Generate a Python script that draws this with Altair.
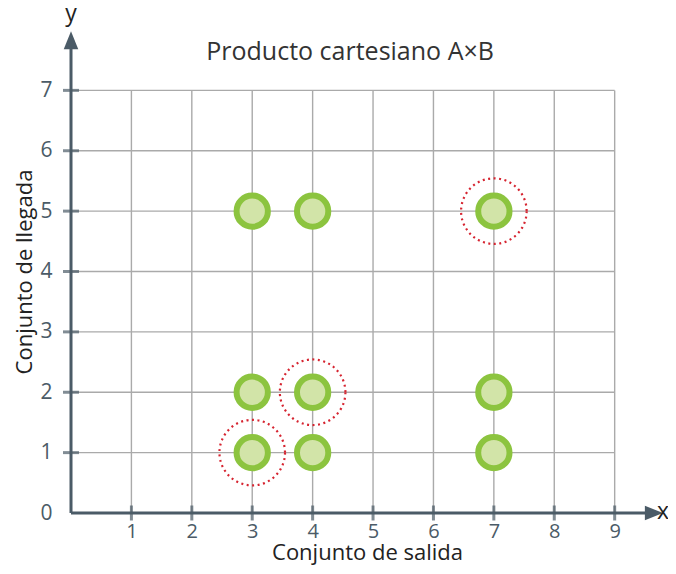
import altair as alt
import pandas as pd

# Data
px = [3, 4, 7, 3, 4, 7, 3, 4, 7]
py = [5, 5, 5, 2, 2, 2, 1, 1, 1]
hx = [7, 4, 3]
hy = [5, 2, 1]
xticks = [1, 2, 3, 4, 5, 6, 7, 8, 9]
yticks = [0, 1, 2, 3, 4, 5, 6, 7]

FONT = "Open Sans"
AX = "#4b5b67"
GRID = "#aaaaaa"

pts = pd.DataFrame({"x": px, "y": py})
hl = pd.DataFrame({"x": hx, "y": hy})
vgrid = pd.DataFrame({"x": xticks, "y": 0, "y2": 7})
hgrid = pd.DataFrame({"y": yticks[1:], "x": 0, "x2": 9})
xt = pd.DataFrame({"x": xticks, "y": 0})
yt = pd.DataFrame({"x": 0, "y": yticks[1:]})

xs = alt.Scale(domain=[0, 9.8], nice=False, zero=False)
ys = alt.Scale(domain=[0, 8], nice=False, zero=False)

xaxis = alt.Axis(values=xticks, format="d", domain=False, ticks=False, grid=False,
                 labelFont=FONT, labelFontSize=20, labelColor=AX, labelPadding=8,
                 title="Conjunto de salida", titleFont=FONT, titleFontSize=22,
                 titleFontWeight="normal", titleColor="#222222", titlePadding=1)
yaxis = alt.Axis(values=yticks, format="d", domain=False, ticks=False, grid=False,
                 labelFont=FONT, labelFontSize=21, labelColor=AX, labelPadding=19,
                 title="Conjunto de llegada", titleFont=FONT, titleFontSize=22,
                 titleFontWeight="normal", titleColor="#222222", titlePadding=3)

base_axes = alt.Chart(pd.DataFrame({"x": [0], "y": [0]})).mark_point(opacity=0).encode(
    x=alt.X("x:Q", scale=xs, axis=xaxis),
    y=alt.Y("y:Q", scale=ys, axis=yaxis),
)

vg = alt.Chart(vgrid).mark_rule(color=GRID, strokeWidth=1.4).encode(
    x=alt.X("x:Q", scale=xs), y=alt.Y("y:Q", scale=ys), y2="y2:Q")
hg = alt.Chart(hgrid).mark_rule(color=GRID, strokeWidth=1.4).encode(
    y=alt.Y("y:Q", scale=ys), x=alt.X("x:Q", scale=xs), x2="x2:Q")

xline = alt.Chart(pd.DataFrame({"x": [0], "x2": [9.6], "y": [0]})).mark_rule(
    color=AX, strokeWidth=3).encode(x=alt.X("x:Q", scale=xs), x2="x2:Q", y=alt.Y("y:Q", scale=ys))
yline = alt.Chart(pd.DataFrame({"y": [0], "y2": [7.8], "x": [0]})).mark_rule(
    color=AX, strokeWidth=3).encode(y=alt.Y("y:Q", scale=ys), y2="y2:Q", x=alt.X("x:Q", scale=xs))

xtk = alt.Chart(xt).mark_tick(orient="vertical", size=15, thickness=3, color=AX).encode(
    x=alt.X("x:Q", scale=xs), y=alt.Y("y:Q", scale=ys))
ytk = alt.Chart(yt).mark_tick(orient="horizontal", size=16, thickness=3, color=AX).encode(
    x=alt.X("x:Q", scale=xs), y=alt.Y("y:Q", scale=ys))

up = alt.Chart(pd.DataFrame({"x": [0], "y": [7.83]})).mark_point(
    shape="M0,-1L-0.8,1L0.8,1Z", size=330, filled=True, color=AX, opacity=1).encode(
    x=alt.X("x:Q", scale=xs), y=alt.Y("y:Q", scale=ys))
right = alt.Chart(pd.DataFrame({"x": [9.65], "y": [0]})).mark_point(
    shape="M1,0L-1,-0.8L-1,0.8Z", size=330, filled=True, color=AX, opacity=1).encode(
    x=alt.X("x:Q", scale=xs), y=alt.Y("y:Q", scale=ys))

lbl_y = alt.Chart(pd.DataFrame({"x": [0], "y": [8.15], "t": ["y"]})).mark_text(
    font=FONT, fontSize=23, color="#222222", baseline="alphabetic").encode(
    x=alt.X("x:Q", scale=xs), y=alt.Y("y:Q", scale=ys), text="t:N")
lbl_x = alt.Chart(pd.DataFrame({"x": [9.8], "y": [0.02], "t": ["x"]})).mark_text(
    font=FONT, fontSize=23, color="#222222").encode(
    x=alt.X("x:Q", scale=xs), y=alt.Y("y:Q", scale=ys), text="t:N")

title = alt.Chart(pd.DataFrame({"x": [4.62], "y": [7.63], "t": ["Producto cartesiano A×B"]})).mark_text(
    font=FONT, fontSize=25, color="#333333").encode(
    x=alt.X("x:Q", scale=xs), y=alt.Y("y:Q", scale=ys), text="t:N")

red = alt.Chart(hl).mark_point(shape="circle", size=4300, filled=False, color="#d62430",
                               strokeWidth=2.2, strokeDash=[2, 3.5], opacity=1).encode(
    x=alt.X("x:Q", scale=xs), y=alt.Y("y:Q", scale=ys))

green = alt.Chart(pts).mark_point(shape="circle", size=980, filled=True, fill="#d2e4a8",
                                  stroke="#8cc43f", strokeWidth=6, opacity=1, fillOpacity=1).encode(
    x=alt.X("x:Q", scale=xs), y=alt.Y("y:Q", scale=ys))

chart = alt.layer(base_axes, vg, hg, xline, yline, xtk, ytk, up, right, red, green,
                  lbl_y, lbl_x, title).properties(
    width=592, height=483,
    background="white",
    autosize=alt.AutoSizeParams(type="none"),
    padding={"left": 63, "top": 22, "right": 5, "bottom": 53},
).configure_view(strokeWidth=0, stroke="transparent")

chart.save("out.html", embed_options={"renderer": "svg", "actions": False})
